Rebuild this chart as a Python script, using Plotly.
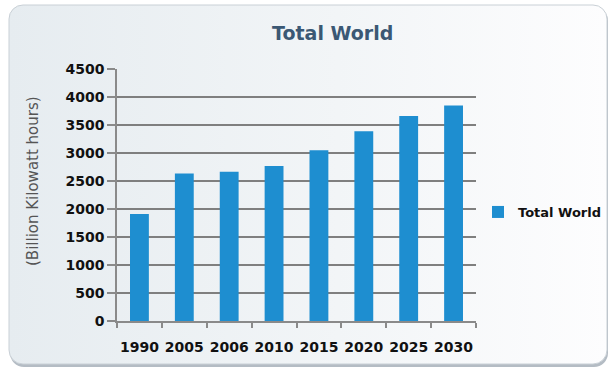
import plotly.graph_objects as go
import base64

categories = ["1990", "2005", "2006", "2010", "2015", "2020", "2025", "2030"]
values = [1910, 2635, 2665, 2770, 3050, 3390, 3660, 3850]
series_name = "Total World"
chart_title = "Total World"
y_title = "(Billion Kilowatt hours)"
y_ticks = [0, 500, 1000, 1500, 2000, 2500, 3000, 3500, 4000, 4500]

W, H = 613, 373
L, R, T, B = 117, 137, 69, 52
PW, PH = W - L - R, H - T - B

fig = go.Figure()
fig.add_trace(go.Bar(
    x=categories, y=values, name=series_name,
    marker=dict(color="#1e8ed0", line=dict(width=0)),
    width=0.42, showlegend=True,
))

svg = f'''<svg xmlns="http://www.w3.org/2000/svg" width="{W}" height="{H}" viewBox="0 0 {W} {H}">
<defs><linearGradient id="g" x1="0" y1="0" x2="1" y2="0">
<stop offset="0" stop-color="#e6ecf0"/><stop offset="0.55" stop-color="#f2f5f7"/><stop offset="1" stop-color="#fdfdfe"/>
</linearGradient></defs>
<rect x="10" y="7" width="598" height="360" rx="14" ry="14" fill="#b4bcc4"/>
<rect x="9" y="5" width="598" height="359" rx="14" ry="14" fill="url(#g)" stroke="#c9d0d6" stroke-width="1"/>
</svg>'''
src = "data:image/svg+xml;base64," + base64.b64encode(svg.encode()).decode()


def px_x(x):
    return (x - L) / PW


def px_y(y):
    return 1 - (y - T) / PH


fig.update_layout(
    width=W, height=H,
    margin=dict(l=L, r=R, t=T, b=B, autoexpand=False),
    paper_bgcolor="white",
    plot_bgcolor="rgba(255,255,255,0.55)",
    images=[dict(source=src, xref="paper", yref="paper", x=px_x(0), y=px_y(0),
                 sizex=W / PW, sizey=H / PH, xanchor="left", yanchor="top",
                 sizing="stretch", layer="below")],
    showlegend=True,
    legend=dict(x=px_x(478), y=px_y(212), xanchor="left", yanchor="middle",
                font=dict(family="DejaVu Sans", size=13, color="#111", weight="bold"),
                bgcolor="rgba(0,0,0,0)", itemwidth=30, tracegroupgap=0),
    annotations=[
        dict(text=chart_title, x=px_x(332), y=px_y(33), xref="paper", yref="paper", showarrow=False,
             xanchor="center", yanchor="middle",
             font=dict(family="DejaVu Sans", size=19, color="#3b5874", weight="bold")),
        dict(text=y_title, x=px_x(33), y=px_y(181), xref="paper", yref="paper", showarrow=False,
             xanchor="center", yanchor="middle",
             textangle=-90, font=dict(family="DejaVu Sans", size=15, color="#555555")),
    ],
)

fig.update_xaxes(
    type="category", showgrid=False, showline=True, linecolor="#8a8a8a", linewidth=1.5,
    ticks="outside", tickson="boundaries", ticklen=5, tickcolor="#8a8a8a", tickwidth=1.5,
    tickangle=0, ticklabelstandoff=12,
    tickfont=dict(family="DejaVu Sans", size=14, color="#111", weight="bold"),
)
fig.update_yaxes(
    range=[0, 4500], tickvals=y_ticks, showgrid=True, gridcolor="#7f7f7f", gridwidth=1.5,
    showline=True, linecolor="#8a8a8a", linewidth=1.5, zeroline=False,
    ticks="outside", ticklen=8, tickcolor="#8a8a8a", tickwidth=1.5,
    tickfont=dict(family="DejaVu Sans", size=14, color="#111", weight="bold"),
)

fig.write_html("out.html", config={"displayModeBar": False},
               post_script="document.body.style.margin='0';document.body.style.overflow='hidden';")
